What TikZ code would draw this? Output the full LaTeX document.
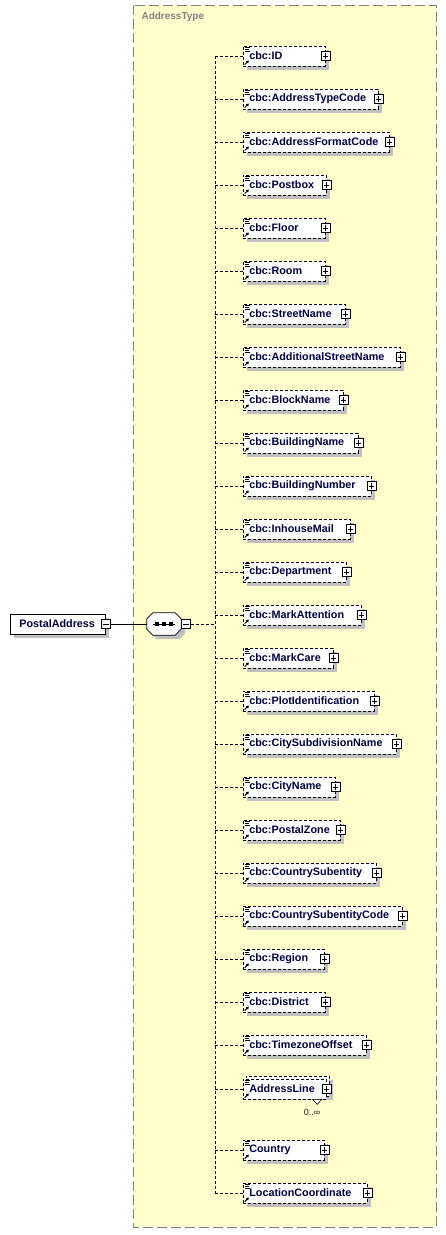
\documentclass[tikz,border=0pt]{standalone}
\usepackage{fontspec}
\setmainfont{Liberation Sans}
\usetikzlibrary{shadows,arrows.meta}
\definecolor{boxyellow}{RGB}{255,255,204}
\definecolor{framegray}{RGB}{128,128,128}
\definecolor{shadowgray}{RGB}{192,192,192}
\definecolor{elemtext}{RGB}{0,0,64}

\tikzset{
  elemfont/.style={font=\bfseries\fontsize{10.8}{12}\selectfont, text=elemtext},
  elembox/.style={draw, dash pattern=on 3pt off 2pt, line width=0.7pt, fill=white,
    anchor=west, minimum height=20pt, inner xsep=6pt, inner ysep=0pt, align=left, elemfont},
  elemshadow/.style={drop shadow={shadow xshift=4pt, shadow yshift=-4pt, fill=shadowgray, opacity=1}},
  rootbox/.style={draw, solid, line width=0.7pt, fill=white, anchor=west, minimum height=20pt,
    inner xsep=9pt, inner ysep=0pt, align=left, elemfont, elemshadow},
  plusbox/.style={draw, solid, fill=white, minimum size=8.5pt, inner sep=0pt, line width=0.6pt,
    path picture={
      \draw[line width=0.6pt] ([yshift=-1.6pt]path picture bounding box.north) -- ([yshift=1.6pt]path picture bounding box.south);
      \draw[line width=0.6pt] ([xshift=1.6pt]path picture bounding box.west) -- ([xshift=-1.6pt]path picture bounding box.east);}},
  minusbox/.style={draw, solid, fill=white, minimum size=9pt, inner sep=0pt, line width=0.6pt,
    path picture={
      \draw[line width=0.6pt] ([xshift=1.6pt]path picture bounding box.west) -- ([xshift=-1.6pt]path picture bounding box.east);}},
  conn/.style={draw, dash pattern=on 3pt off 2pt, line width=0.7pt},
  solidconn/.style={draw, line width=0.7pt},
  iconline/.style={line width=0.6pt},
  iconarrow/.style={line width=0.9pt, -{Triangle[length=2.6pt,width=3.2pt]}},
  seqbox/.style={minimum width=34pt, minimum height=22pt, inner sep=0pt},
  container/.style={draw=framegray, dash pattern=on 10pt off 4pt, line width=0.8pt, fill=boxyellow},
  ctlabel/.style={anchor=west, text=framegray, font=\bfseries\fontsize{10}{11}\selectfont},
  multlabel/.style={font=\fontsize{9}{10}\selectfont, text=black!85}
}

\newcommand{\xdecor}[1]{%
  \node[plusbox] (#1-p) at (#1.east) {};
  \draw[conn] (spine |- #1.west) -- (#1.west);
  \draw[iconline] ([xshift=2pt,yshift=-2pt]#1.north west) -- ++(5,0);
  \draw[iconline] ([xshift=2pt,yshift=-4pt]#1.north west) -- ++(4,0);
  \draw[iconline] ([xshift=2pt,yshift=-6pt]#1.north west) -- ++(5,0);
  \draw[iconarrow] ([xshift=1.8pt,yshift=1.8pt]#1.south west) -- ++(4,4);
}
\newcommand{\xelem}[4]{%
  \pgfmathsetmacro{\myboxw}{#3-243}%
  \pgfmathsetmacro{\mytextw}{#3-255}%
  \node[elembox, elemshadow, minimum width=\myboxw pt, text width=\mytextw pt] (#1) at (243,-#2) {#4};
  \xdecor{#1}
}

\begin{document}
\begin{tikzpicture}[x=1pt,y=1pt]
\useasboundingbox (0,0) rectangle (445,-1235);
\fill[white] (0,0) rectangle (445,-1235);

% container
\draw[container] (133,-5) rectangle (436,-1227);
\node[ctlabel] (ctname) at (138,-17) {AddressType};

% spine
\coordinate (spine) at (215,-56);

% root and sequence
\node[rootbox, minimum width=95pt, text width=77pt] (root) at (10,-624) {PostalAddress};
\node[minusbox] (root-m) at (root.east) {};
\node[seqbox] (seq) at (164,-624) {};
\fill[shadowgray, transform canvas={shift={(4pt,-4pt)}}]
  ([xshift=6pt]seq.north west) -- ([xshift=-6pt]seq.north east) -- ([yshift=-6pt]seq.north east)
  -- ([yshift=6pt]seq.south east) -- ([xshift=-6pt]seq.south east) -- ([xshift=6pt]seq.south west)
  -- ([yshift=6pt]seq.south west) -- ([yshift=-6pt]seq.north west) -- cycle;
\draw[line width=0.7pt, fill=white]
  ([xshift=6pt]seq.north west) -- ([xshift=-6pt]seq.north east) -- ([yshift=-6pt]seq.north east)
  -- ([yshift=6pt]seq.south east) -- ([xshift=-6pt]seq.south east) -- ([xshift=6pt]seq.south west)
  -- ([yshift=6pt]seq.south west) -- ([yshift=-6pt]seq.north west) -- cycle;
\draw[line width=0.7pt] ([xshift=-11pt]seq.center) -- ([xshift=11pt]seq.center);
\foreach \dx in {-7,0,7}{
  \fill ([xshift=\dx pt]seq.center) +(-1.6,-1.6) rectangle +(1.6,1.6);
}
\node[minusbox, anchor=west] (seq-m) at (seq.east) {};
\draw[solidconn] (root-m.east) -- (seq.west);
\draw[conn] (seq-m.east) -- (spine |- seq-m.east);

% elements
\xelem{id}{56}{325}{cbc:ID}
\xelem{atc}{99}{378}{cbc:AddressTypeCode}
\xelem{afc}{142}{389}{cbc:AddressFormatCode}
\xelem{pobox}{185}{326}{cbc:Postbox}
\xelem{floor}{228}{325}{cbc:Floor}
\xelem{room}{271}{325}{cbc:Room}
\xelem{street}{314}{345}{cbc:StreetName}
\xelem{addstreet}{357}{400}{cbc:AdditionalStreetName}
\xelem{block}{400}{343}{cbc:BlockName}
\xelem{bname}{443}{358}{cbc:BuildingName}
\xelem{bnum}{486}{371}{cbc:BuildingNumber}
\xelem{inhouse}{529}{350}{cbc:InhouseMail}
\xelem{dept}{572}{346}{cbc:Department}
\xelem{markatt}{615}{361}{cbc:MarkAttention}
\xelem{markcare}{658}{333}{cbc:MarkCare}
\xelem{plot}{701}{374}{cbc:PlotIdentification}
\xelem{citysub}{744}{396}{cbc:CitySubdivisionName}
\xelem{city}{787}{335}{cbc:CityName}
\xelem{zone}{830}{340}{cbc:PostalZone}
\xelem{csub}{873}{376}{cbc:CountrySubentity}
\xelem{csubcode}{916}{402}{cbc:CountrySubentityCode}
\xelem{region}{959}{324}{cbc:Region}
\xelem{district}{1002}{325}{cbc:District}
\xelem{tz}{1045}{366}{cbc:TimezoneOffset}

% AddressLine (multiple)
\node[elembox, elemshadow, minimum width=83pt, text width=71pt] (addrline-back) at (246,-1086) {};
\node[elembox, minimum width=83pt, text width=71pt] (addrline) at (243,-1089) {AddressLine};
\xdecor{addrline}
\draw[line width=0.6pt, fill=white] ([xshift=-14pt]addrline.south east) -- ++(9,0) -- ++(-4.5,-5) -- cycle;
\node[multlabel] (addrline-mult) at (312,-1112) {0..∞};

\xelem{country}{1150}{324}{Country}
\xelem{loc}{1193}{367}{LocationCoordinate}

\draw[conn] (spine) -- (spine |- loc.west);
\end{tikzpicture}
\end{document}
